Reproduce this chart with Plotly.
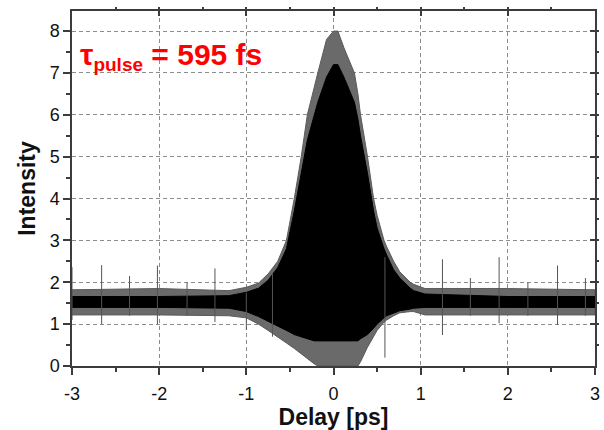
import plotly.graph_objects as go

# Envelope of the interferometric autocorrelation trace
delay = [-3.0, -2.0, -1.2, -1.0, -0.86, -0.75, -0.64, -0.54, -0.45, -0.37, -0.30,
         -0.22, -0.18, -0.08, 0.0, 0.05, 0.12, 0.24, 0.28, 0.31, 0.39, 0.46, 0.50,
         0.58, 0.61, 0.69, 0.76, 0.88, 0.92, 1.05, 2.0, 3.0]
upper_outer = [1.82, 1.85, 1.80, 1.88, 1.98, 2.2, 2.5, 3.0, 4.0, 5.0, 6.0,
               6.7, 7.0, 7.8, 8.0, 8.0, 7.6, 7.0, 6.5, 6.0, 5.0, 4.0, 3.6,
               3.0, 2.85, 2.5, 2.25, 2.0, 1.95, 1.85, 1.85, 1.82]
lower_outer = [1.22, 1.22, 1.2, 1.15, 1.0, 0.85, 0.7, 0.55, 0.42, 0.3, 0.18,
               0.05, 0.0, 0.0, 0.0, 0.0, 0.0, 0.0, 0.0, 0.1, 0.45, 0.7, 0.85,
               1.05, 1.1, 1.2, 1.27, 1.3, 1.3, 1.22, 1.22, 1.22]
upper_core = [1.66, 1.66, 1.68, 1.76, 1.86, 2.05, 2.35, 2.8, 3.7, 4.6, 5.4,
              6.0, 6.3, 6.9, 7.2, 7.2, 6.9, 6.3, 5.9, 5.5, 4.6, 3.7, 3.3,
              2.8, 2.65, 2.3, 2.1, 1.86, 1.8, 1.72, 1.66, 1.66]
lower_core = [1.4, 1.4, 1.38, 1.3, 1.18, 1.05, 0.95, 0.85, 0.75, 0.7, 0.65,
              0.6, 0.6, 0.6, 0.6, 0.6, 0.6, 0.6, 0.6, 0.65, 0.75, 0.9, 1.0,
              1.15, 1.2, 1.27, 1.32, 1.36, 1.38, 1.4, 1.4, 1.4]

# Isolated noise spikes in the baseline
spike_delay = [-3.0, -2.66, -2.34, -2.02, -1.68, -1.36, -1.0, -0.7, 0.59,
               1.25, 1.57, 1.90, 2.23, 2.57, 2.89]
spike_top = [2.36, 2.41, 2.15, 2.4, 2.0, 2.33, 1.75, 2.2, 2.6,
             2.55, 2.1, 2.6, 2.0, 2.4, 2.1]
spike_bottom = [1.1, 1.0, 1.2, 1.0, 1.2, 1.05, 0.86, 0.7, 0.2,
                0.74, 1.2, 1.02, 1.2, 0.98, 1.2]

x_ticks = [-3, -2, -1, 0, 1, 2, 3]
y_ticks = [0, 1, 2, 3, 4, 5, 6, 7, 8]

fig = go.Figure()

fig.add_trace(go.Scatter(
    x=delay + delay[::-1], y=upper_outer + lower_outer[::-1],
    fill="toself", fillcolor="#6a6a6a", mode="lines",
    line=dict(color="#5a5a5a", width=1), hoverinfo="skip", showlegend=False))
fig.add_trace(go.Scatter(
    x=delay + delay[::-1], y=upper_core + lower_core[::-1],
    fill="toself", fillcolor="#000000", mode="lines",
    line=dict(color="#000000", width=1), hoverinfo="skip", showlegend=False))

sx, sy = [], []
for d, t, b in zip(spike_delay, spike_top, spike_bottom):
    sx += [d, d, None]
    sy += [b, t, None]
fig.add_trace(go.Scatter(x=sx, y=sy, mode="lines",
                         line=dict(color="#555555", width=1),
                         hoverinfo="skip", showlegend=False))

# empty trace so the mirrored (inside-tick) axes get drawn
fig.add_trace(go.Scatter(x=[], y=[], xaxis="x2", yaxis="y2", showlegend=False))

axis_font = dict(family="Liberation Sans, Arial, sans-serif", size=18, color="#111111")
title_font = dict(family="Liberation Sans, Arial, sans-serif", size=23, color="#111111")
grid_dash = "4px,3px"

fig.update_layout(
    width=604, height=430,
    margin=dict(l=72, r=4, t=11, b=64),
    paper_bgcolor="white", plot_bgcolor="white",
    showlegend=False,
    xaxis=dict(
        range=[-3, 3], tickvals=x_ticks, ticktext=[str(v) for v in x_ticks],
        ticks="outside", ticklen=7, tickwidth=1.5, tickcolor="#3c3c3c",
        showline=True, linecolor="#3c3c3c", linewidth=1.5, mirror=True,
        showgrid=True, gridcolor="#8c8c8c", griddash=grid_dash, gridwidth=1,
        zeroline=False, tickfont=axis_font, ticklabelstandoff=4,
        minor=dict(dtick=0.5, ticklen=4, tickwidth=1.5, tickcolor="#3c3c3c", showgrid=False),
        title=dict(text="<b>Delay [ps]</b>", font=title_font, standoff=6),
    ),
    yaxis=dict(
        range=[0, 8.48], tickvals=y_ticks, ticktext=[str(v) for v in y_ticks],
        ticks="outside", ticklen=7, tickwidth=1.5, tickcolor="#3c3c3c",
        showline=True, linecolor="#3c3c3c", linewidth=1.5, mirror=True,
        showgrid=True, gridcolor="#8c8c8c", griddash=grid_dash, gridwidth=1,
        zeroline=False, tickfont=axis_font,
        minor=dict(dtick=0.5, ticklen=4, tickwidth=1.5, tickcolor="#3c3c3c", showgrid=False),
        title=dict(text="<b>Intensity</b>", font=title_font, standoff=8),
    ),
    xaxis2=dict(
        overlaying="x", side="top", anchor="y", matches="x", range=[-3, 3],
        tickvals=x_ticks, ticks="inside", ticklen=5, tickwidth=1.5, tickcolor="#3c3c3c",
        showticklabels=False, showgrid=False, zeroline=False, showline=False,
        minor=dict(dtick=0.5, ticklen=3, tickwidth=1.5, tickcolor="#3c3c3c"),
    ),
    yaxis2=dict(
        overlaying="y", side="right", anchor="x", matches="y", range=[0, 8.48],
        tickvals=y_ticks, ticks="inside", ticklen=5, tickwidth=1.5, tickcolor="#3c3c3c",
        showticklabels=False, showgrid=False, zeroline=False, showline=False,
        minor=dict(dtick=0.5, ticklen=3, tickwidth=1.5, tickcolor="#3c3c3c"),
    ),
    annotations=[dict(
        xref="paper", yref="paper", x=0.012, y=0.872, xanchor="left", yanchor="middle",
        text="<b>τ<sub><span style='font-size:19px'>pulse</span></sub> = 595 fs</b>",
        showarrow=False,
        font=dict(family="Liberation Sans, Arial, sans-serif", size=30, color="#ff0000"),
    )],
)

fig.write_html("out.html")
